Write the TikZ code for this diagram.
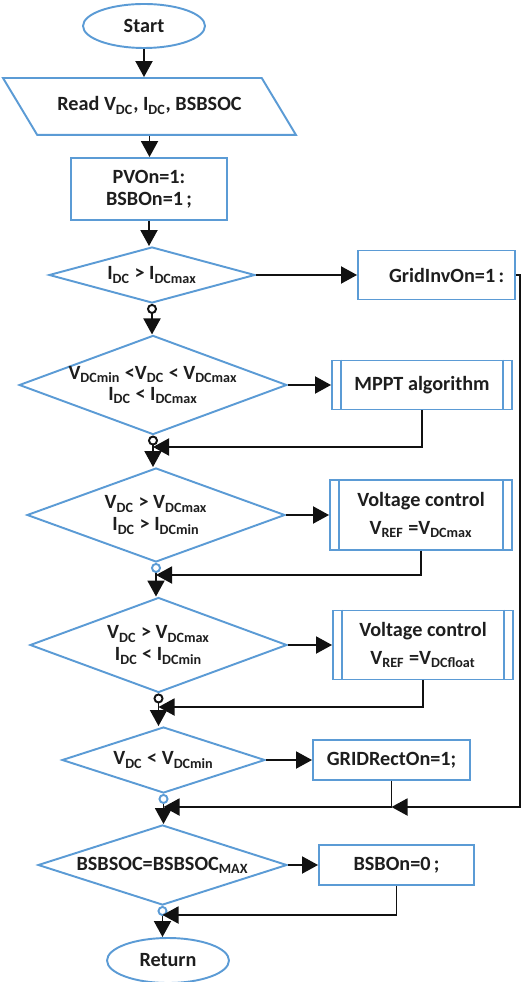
\documentclass[tikz,border=0pt]{standalone}
\usepackage{fontspec}
\setmainfont{Carlito}
\usepackage{tikz}
\usetikzlibrary{arrows.meta,positioning,calc,shapes.geometric}
\definecolor{flowBlue}{HTML}{5B9BD5}
\definecolor{flowLine}{HTML}{111111}
\definecolor{flowText}{HTML}{1E1E1E}

\begin{document}
\begin{tikzpicture}[x=0.02cm, y=-0.02cm,
        base/.style={
            draw=flowBlue,
            line width=1.1pt,
            align=center,
            text=flowText,
            inner sep=0pt,
            font=\fontsize{11.5}{11.5}\selectfont\bfseries
        },
        terminal/.style={base, ellipse, minimum width=2.44cm, minimum height=0.88cm},
        iobox/.style={base, trapezium, trapezium left angle=121, trapezium right angle=59,
            trapezium stretches body, text height=8pt, text depth=3pt,
            inner ysep=0.376cm, minimum width=5.86cm},
        process/.style={base, rectangle, minimum width=3.14cm, minimum height=0.8cm},
        subproc/.style={base, rectangle, minimum width=3.6cm, minimum height=1.38cm},
        decision/.style={base, diamond, shape aspect=2.7},
        flow/.style={
            -{Triangle[length=0.32cm,width=0.34cm]},
            line width=1.1pt,
            draw=flowLine
        },
        branch/.style={
            flow,
            {Circle[open,length=0.2cm,width=0.2cm]}-{Triangle[length=0.32cm,width=0.34cm]}
        },
        bluebranch/.style={
            flow,
            {Circle[open,length=0.2cm,width=0.2cm,color=flowBlue]}-{Triangle[length=0.32cm,width=0.34cm]}
        }
    ]
    \useasboundingbox (0,0) rectangle (524,982);

    % main column
    \node[terminal] (start) at (144,26) {Start};
    \node[iobox] (read) at (149.5,106.5)
        {Read V\textsubscript{DC}, I\textsubscript{DC}, BSBSOC};
    \node[process, minimum width=3.12cm, minimum height=1.24cm] (pvon) at (149,189)
        {PVOn=1:\\[1pt] BSBOn=1\,;};

    \node[decision, minimum width=4.12cm, minimum height=1.12cm] (d1) at (152,275)
        {I\textsubscript{DC} > I\textsubscript{DCmax}};
    \node[decision, minimum width=5.2cm, minimum height=1.9cm] (d2) at (153,385)
        {V\textsubscript{DCmin} <V\textsubscript{DC} < V\textsubscript{DCmax}\\
         I\textsubscript{DC} < I\textsubscript{DCmax}};
    \node[decision, minimum width=5.16cm, minimum height=1.88cm] (d3) at (156,515)
        {V\textsubscript{DC} > V\textsubscript{DCmax}\\[1pt]
         I\textsubscript{DC} > I\textsubscript{DCmin}};
    \node[decision, minimum width=5.14cm, minimum height=1.9cm] (d4) at (158.5,645)
        {V\textsubscript{DC} > V\textsubscript{DCmax}\\[1pt]
         I\textsubscript{DC} < I\textsubscript{DCmin}};
    \node[decision, minimum width=4.06cm, minimum height=1.32cm] (d5) at (163.5,760)
        {V\textsubscript{DC} < V\textsubscript{DCmin}};
    \node[decision, minimum width=4.98cm, minimum height=1.4cm] (d6) at (162.5,865)
        {BSBSOC=BSBSOC\textsubscript{MAX}};
    \node[terminal, minimum height=0.9cm] (return) at (168,960.5) {Return};

    % right-hand actions
    \node[process, minimum height=0.98cm] (gridinv) at (436.5,275) {\quad GridInvOn=1\,:};
    \node[subproc, minimum height=0.98cm] (mppt) at (422,385) {MPPT algorithm};
    \node[subproc, minimum width=3.64cm, minimum height=1.4cm] (volt1) at (421,515)
        {Voltage control\\[4pt] V\textsubscript{REF} =V\textsubscript{DCmax}};
    \node[subproc] (volt2) at (423,645)
        {Voltage control\\[4pt] V\textsubscript{REF} =V\textsubscript{DCfloat}};
    \node[process] (gridrect) at (391.5,760) {GRIDRectOn=1;};
    \node[process, minimum width=3.1cm] (bsboff) at (396.5,865) {BSBOn=0\,;};

    % side bars of the subprocess boxes
    \foreach \b in {mppt,volt1,volt2}
        \draw[draw=flowBlue, line width=1.1pt]
            ([xshift=0.2cm]\b.north west) -- ([xshift=0.2cm]\b.south west)
            ([xshift=-0.2cm]\b.north east) -- ([xshift=-0.2cm]\b.south east);

    % join points on the main column
    \coordinate (m1) at (d2.south |- 0,447);
    \coordinate (m2) at (d3.south |- 0,575);
    \coordinate (m3) at (d4.south |- 0,707);
    \coordinate (m4) at (d5.south |- 0,807);
    \coordinate (m5) at (d6.south |- 0,915);

    \draw[flow] (start.south) -- (start.south |- read.north);
    \draw[flow] (read.south) -- (read.south |- pvon.north);
    \draw[flow] (pvon.south) -- (pvon.south |- d1.north);
    \draw[branch] (d1.south) -- (d1.south |- d2.north);
    \draw[branch] (d2.south) -- (d2.south |- d3.north);
    \draw[bluebranch] (d3.south) -- (d3.south |- d4.north);
    \draw[branch] (d4.south) -- (d4.south |- d5.north);
    \draw[bluebranch] (d5.south) -- (d5.south |- d6.north);
    \draw[bluebranch] (d6.south) -- (d6.south |- return.north);

    % yes branches
    \draw[flow] (d1.east) -- (gridinv.west);
    \draw[flow] (d2.east) -- (mppt.west);
    \draw[flow] (d3.east) -- (volt1.west);
    \draw[flow] (d4.east) -- (volt2.west);
    \draw[flow] (d5.east) -- (gridrect.west);
    \draw[flow] (d6.east) -- (bsboff.west);

    % back to the main column
    \draw[flow] (mppt.south) |- (m1);
    \draw[flow] (volt1.south) |- (m2);
    \draw[flow] (volt2.south) |- (m3);
    \draw[flow] (gridrect.south) |- (m4);
    \draw[flow] (bsboff.south) |- (m5);
    \draw[flow] (gridinv.east) -- ++(4,0) |- (gridrect.south |- m4);

\end{tikzpicture}
\end{document}
